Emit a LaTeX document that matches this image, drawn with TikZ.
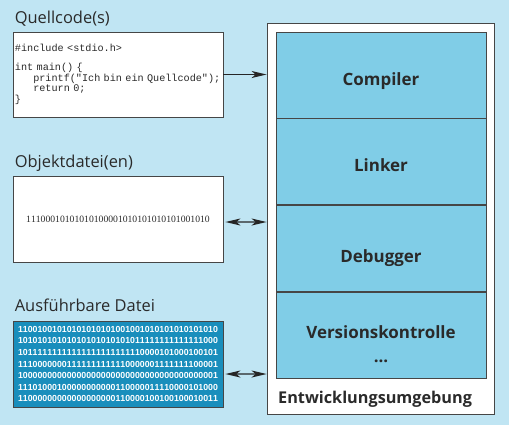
\documentclass[tikz,border=0pt]{standalone}
\usepackage{fontspec}
\setmainfont{Open Sans}
\setmonofont{Liberation Mono}
\newfontfamily\binfont[Kerning=Off]{Liberation Sans}
\newfontfamily\objfont[Kerning=Off]{Liberation Serif}
\usetikzlibrary{positioning, arrows.meta}
\definecolor{bgblue}{RGB}{192,229,243}
\definecolor{rowblue}{RGB}{128,205,231}
\definecolor{exeblue}{RGB}{25,142,188}
\definecolor{textgray}{RGB}{42,42,42}
\definecolor{linegray}{RGB}{70,70,70}
\tikzset{
    >={Stealth[length=15bp, width=7bp, inset=4bp]}, % long narrow heads
    filebox/.style={draw=linegray, line width=0.8bp, fill=white, minimum width=210bp, minimum height=86bp, inner sep=0pt},
    heading/.style={anchor=base west, inner sep=0pt, text=textgray, font=\fontsize{16.5}{18}\selectfont},
    tool/.style={draw=linegray, line width=0.8bp, fill=rowblue, minimum width=210bp, minimum height=86bp, inner sep=0pt,
        text=textgray, font=\bfseries\fontsize{17}{20}\selectfont, text height=20bp, text depth=0bp},
    arrowline/.style={line width=1.3bp, draw=black!85},
}
\begin{document}
\begin{tikzpicture}[x=1bp, y=-1bp]
\fill[bgblue] (0,0) rectangle (509,425);
\useasboundingbox (0,0) rectangle (509,425);

% Dateien
\node[filebox, minimum height=85bp, text width=206bp, inner xsep=2bp, align=left, text=textgray,
      font=\ttfamily\fontsize{10.2}{10.8}\selectfont] (quell) at (118,74.5)
      {\#include <stdio.h>\\[8bp]
       int main() \{\\
       \phantom{xxx}printf("Ich bin ein Quellcode");\\
       \phantom{xxx}return 0;\\
       \}};
\node[filebox, text=textgray] (obj) at (118,219)
      {\raisebox{-3bp}{\objfont\fontsize{9.7}{11}\selectfont 11100010101010100001010101010101001010}};
\node[filebox, fill=exeblue, align=center, text=white,
      font=\binfont\bfseries\fontsize{8.8}{11.67}\selectfont] (exe) at (118,364)
      {11001001010101010101001001010101010101010\\
       10101010101010101010101011111111111111000\\
       10111111111111111111111110000101000100101\\
       11100000001111111111110000001111111100001\\
       10000000000000000000000000000000000000001\\
       11101000100000000000110000011110000101000\\
       11000000000000000000110000100100100010011};

\node[heading] (quelltitle) at ([shift={(2,-8)}]quell.north west) {Quellcode(s)};
\node[heading] (objtitle) at ([shift={(2,-8.3)}]obj.north west) {Objektdatei(en)};
\node[heading] (exetitle) at ([shift={(2,-9)}]exe.north west) {Ausführbare Datei};

% Entwicklungsumgebung
\node[draw=linegray, line width=0.8bp, fill=white, minimum width=227bp, minimum height=391bp] (ide) at (380.5,218.5) {};
\node[tool] (compiler) at (381,75) {Compiler};
\node[tool, below=0pt of compiler] (linker) {Linker};
\node[tool, below=0pt of linker, text height=27bp] (debugger) {Debugger};
\node[tool, below=0pt of debugger, text height=11bp, text depth=4bp] (vcs) {Versionskontrolle};
\node[anchor=base, inner sep=0pt, text=textgray, font=\bfseries\fontsize{17}{20}\selectfont]
      (dots) at ([yshift=-24bp]vcs.base) {...};
\node[heading, font=\bfseries\fontsize{16.3}{18}\selectfont] (idetext) at (278,403) {Entwicklungsumgebung};

% Verbindungen
\draw[arrowline, ->] (quell.east) -- (quell.east -| ide.west);
\draw[arrowline, <->] ([shift={(2,3)}]obj.east) -- ([yshift=-3bp]obj.east -| ide.west);
\draw[arrowline, <->] ([shift={(2,10)}]exe.east) -- ([yshift=-10bp]exe.east -| ide.west);
\end{tikzpicture}
\end{document}
